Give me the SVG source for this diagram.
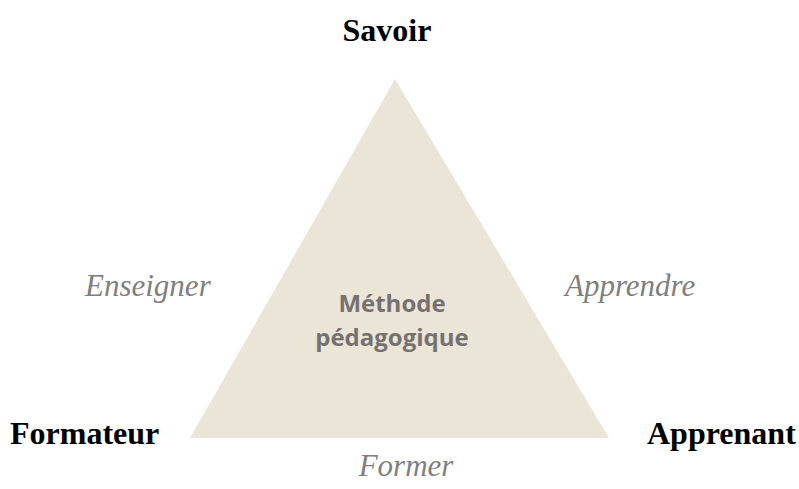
<svg xmlns="http://www.w3.org/2000/svg" width="799" height="489" viewBox="0 0 799 489">
<style>
.v{font-family:"Liberation Serif","Times New Roman",serif;font-weight:bold;font-size:32px;fill:#000}
.a{font-family:"Liberation Serif","Times New Roman",serif;font-style:italic;font-size:31px;fill:#7f7f7f}
.c{font-family:"Open Sans","Noto Sans",sans-serif;font-weight:bold;font-size:24px;fill:#767171}
</style>
<rect width="799" height="489" fill="#fff"/>
<g id="triangle">
<polygon points="395,79 609,438 190,438" fill="#eae5d6"/>
<text class="c" x="392" y="312" text-anchor="middle">Méthode</text>
<text class="c" x="392" y="346" text-anchor="middle">pédagogique</text>
</g>
<g id="savoir"><text class="v" x="387" y="41" text-anchor="middle">Savoir</text></g>
<g id="formateur"><text class="v" x="10" y="444">Formateur</text></g>
<g id="apprenant"><text class="v" x="647" y="444">Apprenant</text></g>
<g id="labels">
<text class="a" x="85" y="296">Enseigner</text>
<text class="a" x="565" y="296">Apprendre</text>
<text class="a" x="406" y="476" text-anchor="middle">Former</text>
</g>
</svg>
